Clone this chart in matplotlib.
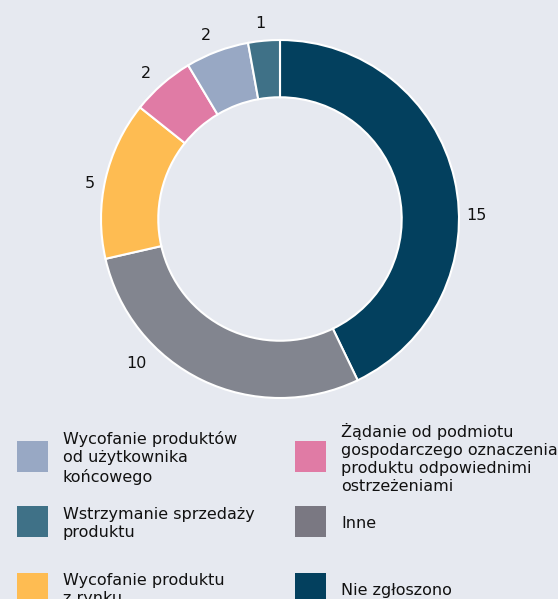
import matplotlib.pyplot as plt
from matplotlib.patches import Rectangle

BG = "#E6E9F0"

# slices in clockwise order from 12 o'clock
values = [15, 10, 5, 2, 2, 1]
slice_colors = ["#03405E", "#82858F", "#FEBC52", "#E07BA5", "#98A8C4", "#3F7187"]

# legend (column-major: left column, then right column)
legend_labels = [
    "Wycofanie produktów\nod użytkownika\nkońcowego",
    "Wstrzymanie sprzedaży\nproduktu",
    "Wycofanie produktu\nz rynku",
    "Żądanie od podmiotu\ngospodarczego oznaczenia\nproduktu odpowiednimi\nostrzeżeniami",
    "Inne",
    "Nie zgłoszono",
]
legend_colors = ["#98A8C4", "#3F7187", "#FEBC52", "#E07BA5", "#7A7882", "#03405E"]

title = "Środki podjęte według typu ryzyka, 2021, UE"

W, H = 558, 599
fig = plt.figure(figsize=(W / 100, H / 100), dpi=100, facecolor=BG)
plt.rcParams["font.family"] = ["DejaVu Sans"]

# pie axes: centre (280, 219) px, outer radius 179 px
cx, cy, r = 280, 219, 179
ax = fig.add_axes([(cx - r) / W, 1 - (cy + r) / H, 2 * r / W, 2 * r / H])
ax.set_facecolor(BG)
wedges, texts = ax.pie(values, colors=slice_colors, startangle=90, counterclock=False,
                       labels=[str(v) for v in values], labeldistance=1.1,
                       radius=1.0,
                       wedgeprops=dict(width=0.32, edgecolor="white", linewidth=1.5),
                       textprops=dict(fontsize=11.5, color="#111111"))

# label anchor points as placed in the source chart (pixels)
label_px = [(476, 216), (136, 363), (90, 183), (146, 74), (206, 36), (260, 24)]
for t, (px, py) in zip(texts, label_px):
    t.set_ha("center")
    t.set_va("center")
    t.set_position(((px - cx) / r, (cy - py) / r))
ax.set_xlim(-1, 1)
ax.set_ylim(-1, 1)
ax.set_aspect("equal")

fig.text(0.5, 1 + 3.5 / H, title, ha="center", va="baseline",
         fontsize=13, fontweight="bold", color="#111111")

# legend drawn as a 2x3 grid
col_x = [17, 295]
text_x = [63, 341]
row_y = [456, 521.5, 588]
for i, (lab, col) in enumerate(zip(legend_labels, legend_colors)):
    c, rr = divmod(i, 3)
    yc = row_y[rr]
    fig.patches.append(Rectangle((col_x[c] / W, 1 - (yc + 15.5) / H), 31 / W, 31 / H,
                                 transform=fig.transFigure, facecolor=col,
                                 edgecolor="none"))
    fig.text(text_x[c] / W, 1 - (yc + 2) / H, lab, ha="left", va="center",
             fontsize=11.5, color="#111111", linespacing=1.25)

fig.savefig("out.png", dpi=100, facecolor=BG)
